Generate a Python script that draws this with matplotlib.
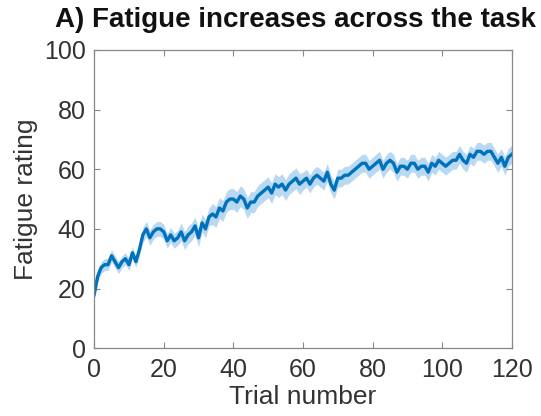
import numpy as np
import matplotlib
matplotlib.use("Agg")
import matplotlib.pyplot as plt

# mean fatigue rating per trial
trials = np.arange(0, 121)
fatigue_mean = [
    18, 24, 27, 28, 28, 31, 29, 27, 29, 30,
    28, 32, 29, 33, 38, 40, 37, 39, 40, 40,
    39, 36, 38, 36, 37, 39, 36, 38, 39, 41,
    37, 42, 40, 44, 45, 44, 47, 46, 49, 50,
    50, 49, 51, 50, 47, 49, 49, 51, 52, 53,
    54, 52, 55, 54, 55, 53, 55, 56, 57, 55,
    56, 57, 55, 57, 58, 57, 56, 59, 55, 53,
    57, 57, 58, 58, 59, 60, 61, 62, 62, 60,
    61, 62, 63, 60, 62, 63, 62, 59, 61, 61,
    60, 62, 62, 60, 61, 61, 59, 62, 61, 63,
    62, 61, 62, 63, 63, 65, 63, 62, 65, 64,
    66, 66, 65, 66, 66, 64, 62, 64, 61, 64,
    65,
]
# half-width of the shaded error band
fatigue_sem = [
    2.0, 2.0, 2.0, 2.0, 2.0, 2.0, 2.0, 2.0, 2.0, 2.0,
    2.0, 2.0, 2.0, 2.0, 2.5, 2.5, 2.5, 2.5, 2.5, 2.5,
    2.5, 2.5, 2.5, 2.5, 2.5, 3.0, 3.0, 3.0, 3.0, 3.0,
    3.0, 3.0, 3.0, 3.0, 3.5, 3.5, 3.5, 3.5, 3.5, 3.5,
    3.5, 3.5, 3.5, 3.5, 3.5, 3.5, 3.5, 3.5, 3.5, 3.5,
    3.5, 3.5, 3.5, 3.5, 3.5, 3.5, 3.5, 3.5, 3.5, 3.5,
    3.0, 3.0, 3.0, 3.0, 3.0, 3.0, 3.0, 3.0, 3.0, 3.0,
    3.0, 3.0, 3.0, 3.0, 3.0, 3.0, 3.0, 3.0, 3.0, 3.0,
    3.0, 3.0, 3.0, 3.0, 3.0, 3.0, 3.0, 3.0, 3.0, 3.0,
    3.0, 3.0, 3.0, 3.0, 3.0, 3.0, 3.0, 3.0, 3.0, 3.0,
    3.0, 3.0, 3.0, 3.0, 3.0, 3.0, 3.0, 3.0, 3.0, 3.0,
    3.0, 3.0, 3.0, 3.0, 3.0, 3.0, 3.0, 3.0, 3.0, 3.0,
    3.0,
]
x_ticks = [0, 20, 40, 60, 80, 100, 120]
y_ticks = [0, 20, 40, 60, 80, 100]

plt.rcParams['font.family'] = ['Liberation Sans', 'DejaVu Sans']

mean = np.array(fatigue_mean, dtype=float)
sem = np.array(fatigue_sem, dtype=float)

fig = plt.figure(figsize=(5.41, 4.16), dpi=100)
ax = fig.add_axes([0.174, 0.163, 0.772, 0.717])

ax.fill_between(trials, mean - sem, mean + sem, color='#9cc8ec', alpha=0.7, linewidth=0)
ax.plot(trials, mean, color='#0072BD', linewidth=2.4)

ax.set_xlim(0, 120)
ax.set_ylim(0, 100)
ax.set_xticks(x_ticks)
ax.set_yticks(y_ticks)
ax.tick_params(direction='in', top=True, right=True, length=4, width=0.8,
               colors='#888888', labelcolor='#333333', labelsize=18)
ax.tick_params(axis='x', pad=7)
ax.tick_params(axis='y', pad=6)
for s in ax.spines.values():
    s.set_color('#888888')
    s.set_linewidth(0.9)

ax.set_xlabel('Trial number', fontsize=19, color='#333333', labelpad=2)
ax.set_ylabel('Fatigue rating', fontsize=19, color='#333333', labelpad=4)
fig.text(0.546, 0.952, 'A) Fatigue increases across the task', ha='center', va='center',
         fontsize=20, fontweight='bold', color='#111111')

fig.savefig('out.png', dpi=100)
